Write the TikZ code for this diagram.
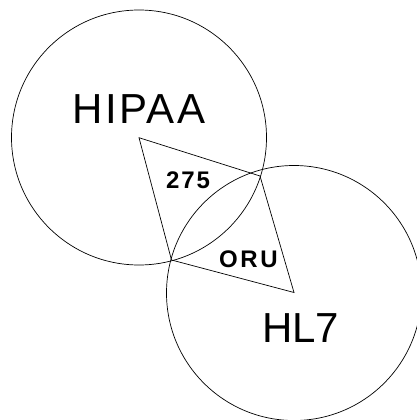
\documentclass[tikz,border=0pt]{standalone}
\usepackage{fontspec}
\setmainfont{Liberation Sans}
\newfontfamily\bigset{Liberation Sans}
\newfontfamily\wideset[LetterSpace=6]{Liberation Sans}
\newfontfamily\boldwide[LetterSpace=8]{Liberation Sans}
\newfontfamily\boldwider[LetterSpace=11]{Liberation Sans}
\begin{document}
\begin{tikzpicture}[x=1pt,y=-1pt,
  ring/.style={draw=black,line width=0.7pt,circle,minimum size=255pt,inner sep=0pt},
  edge/.style={draw=black,line width=0.7pt,line join=miter},
  biglabel/.style={inner sep=0pt,font=\bigset\fontsize{42}{42}\selectfont},
  smalllabel/.style={inner sep=0pt,font=\boldwide\bfseries\fontsize{24}{24}\selectfont}]
  \useasboundingbox (0,0) rectangle (416,420);
  % the two overlapping standards
  \node[ring] (hipaa) at (139,137.5) {};
  \node[ring] (hl7) at (294,293) {};
  % corners of the two transaction triangles, which share the edge b--c
  \coordinate (a) at (139,137.7);
  \coordinate (b) at (260,176);
  \coordinate (c) at (171.5,260);
  \coordinate (d) at (294,292.5);
  \draw[edge] (a) -- (b) -- (d) -- (c) -- cycle;
  % labels
  \node[inner sep=0pt,font=\wideset\fontsize{42}{42}\selectfont] (hipaatext) at (139,108.7) {HIPAA};
  \node[biglabel] (hl7text) at (300.8,328.3) {HL7};
  \node[smalllabel] (t275) at (188,180) {275};
  \node[smalllabel,font=\boldwider\bfseries\fontsize{24}{24}\selectfont] (toru) at (248.5,259) {ORU};
\end{tikzpicture}
\end{document}
